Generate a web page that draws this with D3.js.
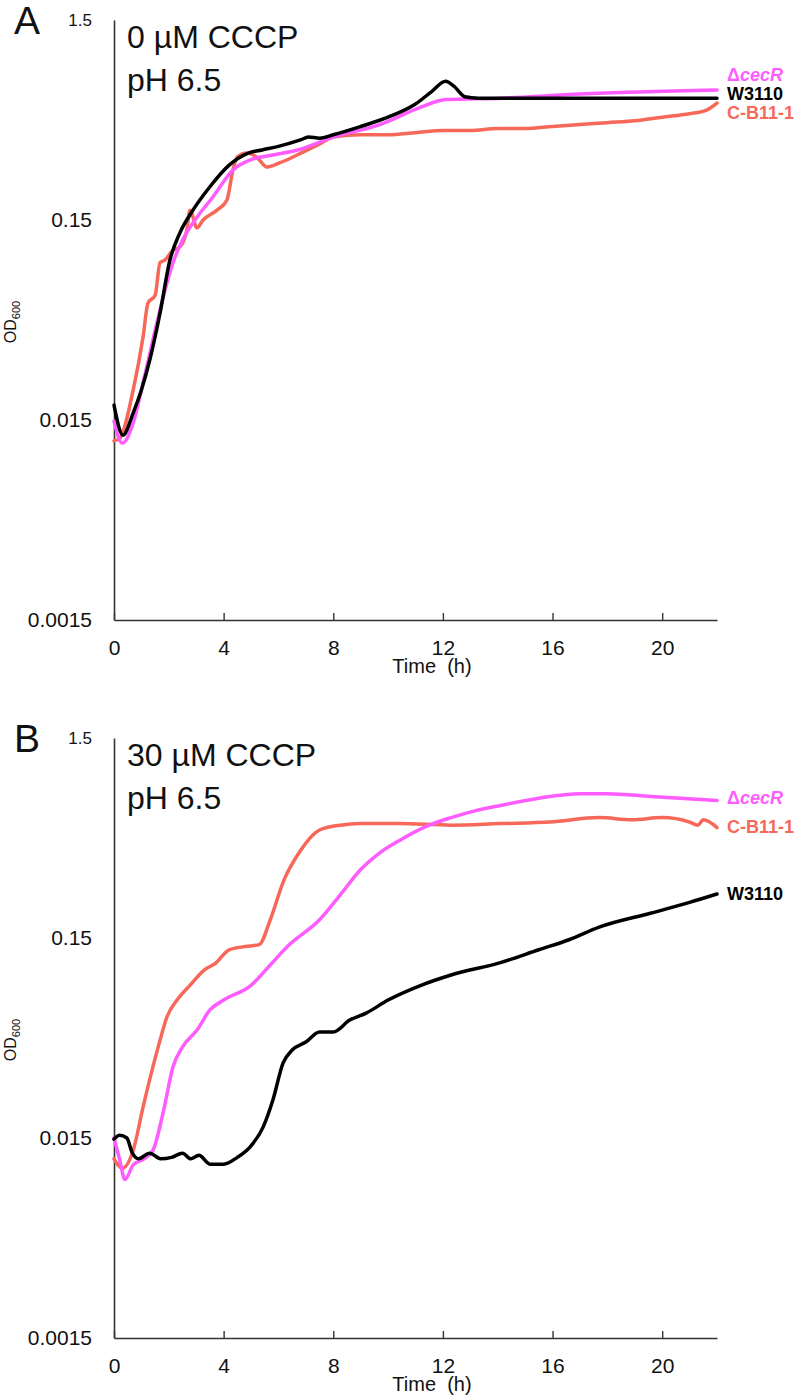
<!DOCTYPE html>
<html>
<head>
<meta charset="utf-8">
<script src="https://cdn.jsdelivr.net/npm/d3@7"></script>
<style>
  body { margin: 0; background: #fff; }
  svg { display: block; font-family: Arial, "Liberation Sans", sans-serif; }
</style>
</head>
<body>
<svg id="chart" width="800" height="1395"></svg>
<script>
// ---------- Data ----------
const xTicks = [0, 4, 8, 12, 16, 20];
const yTicks = [0.0015, 0.015, 0.15, 1.5];
const yTickLabels = ["0.0015", "0.015", "0.15", "1.5"];
const strains = ["ΔcecR", "W3110", "C-B11-1"];

// Panel A: 0 µM CCCP, pH 6.5
const aW3110T = [0, 0.33, 0.7, 1.0, 1.33, 1.68, 2.04, 2.4, 2.88, 3.5, 4.2, 4.9, 5.4, 6.0, 6.8, 7.1, 7.5, 8, 9, 10, 11, 11.6, 12.1, 12.4, 12.8, 13.3, 14, 16, 18, 20, 22];
const aW3110V = [0.0178, 0.0126, 0.0163, 0.0212, 0.0309, 0.0514, 0.0946, 0.129, 0.168, 0.22, 0.282, 0.324, 0.336, 0.35, 0.377, 0.39, 0.385, 0.40, 0.44, 0.49, 0.57, 0.66, 0.74, 0.70, 0.62, 0.61, 0.61, 0.61, 0.61, 0.61, 0.61];
const aCecRT = [0, 0.3, 0.7, 1.06, 1.42, 1.8, 2.15, 2.5, 3.03, 3.6, 4.34, 4.96, 5.8, 6.7, 8, 9.7, 11.2, 12.1, 14.1, 17, 22];
const aCecRV = [0.0148, 0.0115, 0.0145, 0.023, 0.0377, 0.062, 0.0915, 0.119, 0.155, 0.195, 0.267, 0.299, 0.317, 0.336, 0.39, 0.45, 0.55, 0.60, 0.61, 0.64, 0.67];
const aCB11T = [0, 0.22, 0.7, 1.06, 1.24, 1.5, 1.68, 1.86, 2.15, 2.4, 2.66, 2.77, 3.03, 3.25, 3.76, 4.12, 4.34, 4.5, 4.85, 5.2, 5.58, 6.06, 6.68, 7.5, 8, 9, 10, 11, 12, 13, 14, 15, 16, 17, 18, 19, 20, 21, 21.6, 22];
const aCB11V = [0.0118, 0.0122, 0.0212, 0.039, 0.0577, 0.063, 0.092, 0.0946, 0.106, 0.11, 0.134, 0.168, 0.137, 0.15, 0.168, 0.189, 0.267, 0.31, 0.324, 0.31, 0.276, 0.29, 0.317, 0.36, 0.39, 0.40, 0.40, 0.41, 0.42, 0.42, 0.43, 0.43, 0.44, 0.45, 0.46, 0.47, 0.49, 0.51, 0.53, 0.576];

// Panel B: 30 µM CCCP, pH 6.5
const bW3110T = [0, 0.2, 0.47, 0.66, 0.9, 1.3, 1.7, 2.1, 2.5, 2.8, 3.1, 3.5, 4.0, 4.5, 4.96, 5.44, 5.8, 6.17, 6.5, 7.0, 7.5, 8.0, 8.6, 9.2, 10, 11.2, 12.3, 14.1, 15.5, 16.6, 17.7, 19.6, 21, 22];
const bW3110V = [0.0148, 0.0155, 0.015, 0.0127, 0.0118, 0.0126, 0.0118, 0.012, 0.0126, 0.0118, 0.0123, 0.0111, 0.0111, 0.012, 0.0135, 0.017, 0.0233, 0.0356, 0.0413, 0.0453, 0.0508, 0.0508, 0.0583, 0.0632, 0.0734, 0.087, 0.098, 0.113, 0.131, 0.147, 0.17, 0.2, 0.226, 0.249];
const bCecRT = [0, 0.2, 0.4, 0.7, 1.1, 1.42, 1.8, 2.15, 2.5, 3.03, 3.5, 4.0, 5.0, 5.7, 6.4, 7.5, 8.25, 9.0, 9.7, 10.4, 11.5, 12.3, 13.2, 14.1, 15.5, 17, 18, 19.6, 22];
const bCecRV = [0.015, 0.0118, 0.0093, 0.011, 0.0118, 0.013, 0.0203, 0.034, 0.0428, 0.052, 0.0655, 0.0734, 0.087, 0.11, 0.139, 0.185, 0.246, 0.33, 0.40, 0.46, 0.55, 0.60, 0.65, 0.69, 0.75, 0.79, 0.79, 0.765, 0.73];
const bCB11T = [0, 0.3, 0.7, 1.06, 1.42, 1.68, 1.93, 2.3, 2.77, 3.3, 3.7, 4.2, 4.8, 5.3, 5.7, 6.2, 6.8, 7.5, 8.25, 9, 10.4, 12.3, 14.1, 15.9, 17.7, 18.9, 20, 21, 21.3, 21.5, 22];
const bCB11V = [0.0118, 0.0106, 0.013, 0.0214, 0.034, 0.0463, 0.0604, 0.0734, 0.087, 0.104, 0.112, 0.131, 0.136, 0.139, 0.185, 0.292, 0.41, 0.52, 0.55, 0.56, 0.56, 0.55, 0.56, 0.57, 0.60, 0.585, 0.60, 0.57, 0.55, 0.585, 0.535];

const colors = { "ΔcecR": "#ff5cff", "W3110": "#000000", "C-B11-1": "#f7675a" };

const panels = [
  { letter: "A", title: ["0 µM CCCP", "pH 6.5"], off: 0,
    series: [
      { name: "C-B11-1", t: aCB11T, v: aCB11V },
      { name: "ΔcecR", t: aCecRT, v: aCecRV },
      { name: "W3110", t: aW3110T, v: aW3110V }
    ],
    labelY: { "ΔcecR": 75, "W3110": 94, "C-B11-1": 113 } },
  { letter: "B", title: ["30 µM CCCP", "pH 6.5"], off: 718,
    series: [
      { name: "C-B11-1", t: bCB11T, v: bCB11V },
      { name: "ΔcecR", t: bCecRT, v: bCecRV },
      { name: "W3110", t: bW3110T, v: bW3110V }
    ],
    labelY: { "ΔcecR": 80, "W3110": 176, "C-B11-1": 109 } }
];

const svg = d3.select("#chart");
const x = d3.scaleLinear().domain([0, 22]).range([114, 717]);

panels.forEach(p => {
  const g = svg.append("g").attr("transform", `translate(0,${p.off})`);
  const y = d3.scaleLog().domain([0.0015, 1.5]).range([620, 20]);

  // axes
  const xAxis = d3.axisBottom(x).tickValues(xTicks).tickSizeInner(-7).tickSizeOuter(0).tickPadding(20).tickFormat(d3.format("d"));
  const gx = g.append("g").attr("transform", "translate(0,620)").call(xAxis);
  gx.select(".domain").attr("stroke", "#333").attr("stroke-width", 1.6);
  gx.selectAll(".tick line").attr("stroke", "#333").attr("stroke-width", 1.4);
  gx.selectAll(".tick text").attr("font-size", 21).attr("fill", "#111").attr("font-family", "Arial, 'Liberation Sans', sans-serif");

  const yAxis = d3.axisLeft(y).tickValues(yTicks).tickSize(0).tickPadding(22)
    .tickFormat((d, i) => yTickLabels[i]);
  const gy = g.append("g").attr("transform", "translate(114,0)").call(yAxis);
  gy.select(".domain").attr("stroke", "#333").attr("stroke-width", 1.6);
  gy.selectAll(".tick text").attr("font-size", (d, i) => i === 3 ? 17 : 21).attr("fill", "#111")
    .attr("font-family", "Arial, 'Liberation Sans', sans-serif");

  // axis titles
  g.append("text").attr("x", 432).attr("y", 673).attr("text-anchor", "middle")
    .attr("font-size", 20).attr("fill", "#111").attr("xml:space", "preserve").text("Time  (h)");
  const yl = g.append("text").attr("transform", "translate(16,322) rotate(-90)")
    .attr("text-anchor", "middle").attr("font-size", 16).attr("fill", "#111");
  yl.append("tspan").text("OD");
  yl.append("tspan").attr("font-size", 11).attr("dy", 4).text("600");

  // panel letter & title
  g.append("text").attr("x", 14).attr("y", 34).attr("font-size", 39).attr("fill", "#111").text(p.letter);
  p.title.forEach((t, i) => {
    g.append("text").attr("x", 127).attr("y", 48 + i * 43).attr("font-size", 32).attr("fill", "#111").text(t);
  });

  // lines
  const line = d3.line().x(d => x(d[0])).y(d => y(d[1])).curve(d3.curveMonotoneX);
  p.series.forEach(s => {
    const pts = s.t.map((t, i) => [t, s.v[i]]);
    g.append("path").datum(pts).attr("d", line).attr("fill", "none")
      .attr("stroke", colors[s.name]).attr("stroke-width", 3.5)
      .attr("stroke-linejoin", "round").attr("stroke-linecap", "round");
  });

  // end labels
  strains.forEach(name => {
    const t = g.append("text").attr("x", 727).attr("y", p.labelY[name]).attr("dy", "0.35em")
      .attr("font-size", 18).attr("font-weight", "bold").attr("fill", colors[name]);
    if (name === "ΔcecR") {
      t.append("tspan").text("Δ");
      t.append("tspan").attr("font-style", "italic").text("cecR");
    } else {
      t.text(name);
    }
  });
});
</script>
</body>
</html>
